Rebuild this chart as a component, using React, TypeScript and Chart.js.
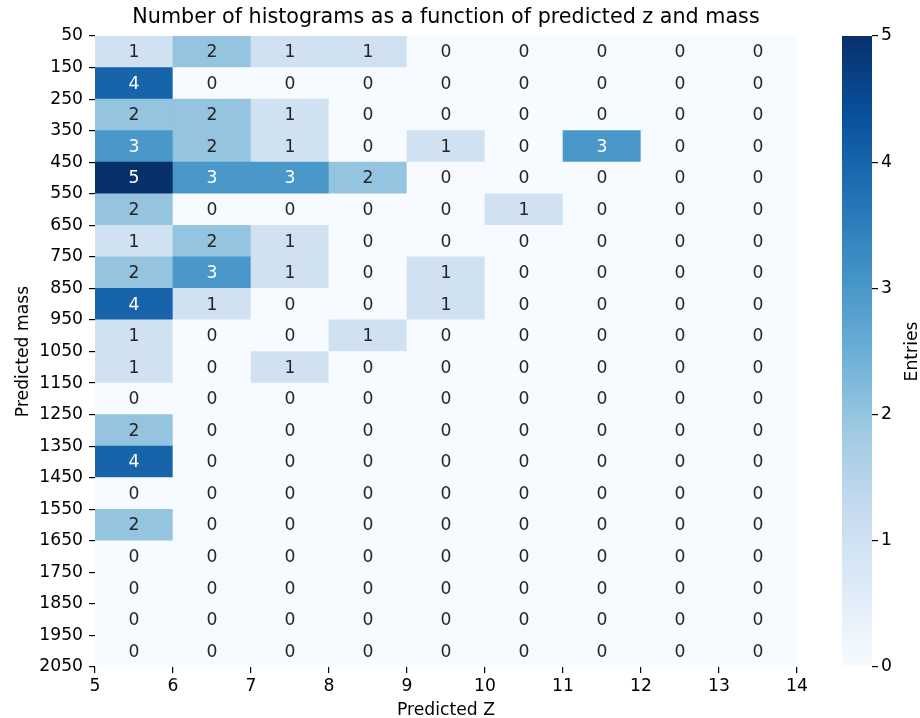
import React, { useEffect, useRef } from "react";
import { Chart, registerables } from "chart.js";

Chart.register(...registerables);

// Bin edges of the 2D histogram
const zEdges = [5, 6, 7, 8, 9, 10, 11, 12, 13, 14];
const massEdges = [
  50, 150, 250, 350, 450, 550, 650, 750, 850, 950, 1050,
  1150, 1250, 1350, 1450, 1550, 1650, 1750, 1850, 1950, 2050,
];

// Entries per (mass row, z column); rows follow massEdges, columns follow zEdges
const entries: number[][] = [
  [1, 2, 1, 1, 0, 0, 0, 0, 0],
  [4, 0, 0, 0, 0, 0, 0, 0, 0],
  [2, 2, 1, 0, 0, 0, 0, 0, 0],
  [3, 2, 1, 0, 1, 0, 3, 0, 0],
  [5, 3, 3, 2, 0, 0, 0, 0, 0],
  [2, 0, 0, 0, 0, 1, 0, 0, 0],
  [1, 2, 1, 0, 0, 0, 0, 0, 0],
  [2, 3, 1, 0, 1, 0, 0, 0, 0],
  [4, 1, 0, 0, 1, 0, 0, 0, 0],
  [1, 0, 0, 1, 0, 0, 0, 0, 0],
  [1, 0, 1, 0, 0, 0, 0, 0, 0],
  [0, 0, 0, 0, 0, 0, 0, 0, 0],
  [2, 0, 0, 0, 0, 0, 0, 0, 0],
  [4, 0, 0, 0, 0, 0, 0, 0, 0],
  [0, 0, 0, 0, 0, 0, 0, 0, 0],
  [2, 0, 0, 0, 0, 0, 0, 0, 0],
  [0, 0, 0, 0, 0, 0, 0, 0, 0],
  [0, 0, 0, 0, 0, 0, 0, 0, 0],
  [0, 0, 0, 0, 0, 0, 0, 0, 0],
  [0, 0, 0, 0, 0, 0, 0, 0, 0],
];

const colorMin = 0;
const colorMax = 5;

const TITLE = "Number of histograms as a function of predicted z and mass";
const X_LABEL = "Predicted Z";
const Y_LABEL = "Predicted mass";
const CBAR_LABEL = "Entries";

const FONT = "'DejaVu Sans', 'Liberation Sans', sans-serif";
const TICK_SIZE = 17.2;
const TITLE_SIZE = 20.7;

// "Blues" sequential palette stops
const BLUES = [
  "#f7fbff", "#deebf7", "#c6dbef", "#9ecae1", "#6baed6",
  "#4292c6", "#2171b5", "#08519c", "#08306b",
];

function hexToRgb(h: string): number[] {
  return [1, 3, 5].map((i) => parseInt(h.slice(i, i + 2), 16));
}

function bluesRgb(t: number): number[] {
  const c = Math.min(1, Math.max(0, t)) * (BLUES.length - 1);
  const i = Math.min(BLUES.length - 2, Math.floor(c));
  const f = c - i;
  const a = hexToRgb(BLUES[i]);
  const b = hexToRgb(BLUES[i + 1]);
  return a.map((v, k) => Math.round(v + (b[k] - v) * f));
}

function rgbStr(c: number[]): string {
  return `rgb(${c[0]},${c[1]},${c[2]})`;
}

function luminance(c: number[]): number {
  const lin = c.map((v) => {
    const s = v / 255;
    return s <= 0.03928 ? s / 12.92 : Math.pow((s + 0.055) / 1.055, 2.4);
  });
  return 0.2126 * lin[0] + 0.7152 * lin[1] + 0.0722 * lin[2];
}

type Cell = { x: number; y: [number, number]; v: number };

const cells: Cell[] = [];
entries.forEach((row, r) => {
  row.forEach((v, c) => {
    cells.push({
      x: (zEdges[c] + zEdges[c + 1]) / 2,
      y: [massEdges[r], massEdges[r + 1]],
      v,
    });
  });
});

const cellColors = cells.map((c) =>
  rgbStr(bluesRgb((c.v - colorMin) / (colorMax - colorMin)))
);

// Writes each cell's count in its centre, white on dark cells
const annotatePlugin = {
  id: "annotateCells",
  afterDatasetsDraw(chart: any) {
    const { ctx } = chart;
    const meta = chart.getDatasetMeta(0);
    ctx.save();
    ctx.font = `${TICK_SIZE}px ${FONT}`;
    ctx.textAlign = "center";
    ctx.textBaseline = "middle";
    meta.data.forEach((el: any, i: number) => {
      const cell = cells[i];
      const rgb = bluesRgb((cell.v - colorMin) / (colorMax - colorMin));
      ctx.fillStyle = luminance(rgb) > 0.408 ? "#262626" : "#ffffff";
      const cy = (el.y + el.base) / 2;
      ctx.fillText(String(cell.v), el.x, cy + 1);
    });
    ctx.restore();
  },
};

const titlePlugin = {
  id: "plotTitle",
  afterDraw(chart: any) {
    const { ctx, chartArea } = chart;
    ctx.save();
    ctx.font = `${TITLE_SIZE}px ${FONT}`;
    ctx.fillStyle = "#000";
    ctx.textAlign = "center";
    ctx.textBaseline = "middle";
    ctx.fillText(TITLE, (chartArea.left + chartArea.right) / 2, 18);
    ctx.restore();
  },
};

const cbarLabelPlugin = {
  id: "cbarLabel",
  afterDraw(chart: any) {
    const { ctx, chartArea } = chart;
    ctx.save();
    ctx.font = `${TICK_SIZE}px ${FONT}`;
    ctx.fillStyle = "#000";
    ctx.textAlign = "center";
    ctx.textBaseline = "middle";
    ctx.translate(113, (chartArea.top + chartArea.bottom) / 2);
    ctx.rotate(-Math.PI / 2);
    ctx.fillText(CBAR_LABEL, 0, 0);
    ctx.restore();
  },
};

const tickFont = { family: FONT, size: TICK_SIZE };

export default function App() {
  const mainRef = useRef<HTMLCanvasElement>(null);
  const cbarRef = useRef<HTMLCanvasElement>(null);

  useEffect(() => {
    if (!mainRef.current || !cbarRef.current) return;

    const main = new Chart(mainRef.current, {
      type: "bar",
      data: {
        datasets: [
          {
            data: cells as any,
            backgroundColor: cellColors,
            borderWidth: 0,
            barPercentage: 1,
            categoryPercentage: 1,
          },
        ],
      },
      options: {
        animation: false,
        responsive: false,
        maintainAspectRatio: false,
        devicePixelRatio: 1,
        layout: { padding: { top: 36, right: 123, bottom: 0, left: 0 } },
        plugins: {
          legend: { display: false },
          tooltip: { enabled: false },
        },
        scales: {
          x: {
            type: "linear",
            min: zEdges[0],
            max: zEdges[zEdges.length - 1],
            offset: false,
            border: { display: false },
            grid: {
              offset: false,
              drawOnChartArea: false,
              drawTicks: true,
              tickLength: 6,
              color: "#000",
              lineWidth: 1.2,
            },
            ticks: {
              stepSize: 1,
              autoSkip: false,
              maxRotation: 0,
              padding: 3,
              color: "#000",
              font: tickFont,
              callback: (v: any) => String(v),
            },
            title: {
              display: true,
              text: X_LABEL,
              color: "#000",
              font: tickFont,
              padding: { top: 0, bottom: -3 },
            },
            afterFit: (s: any) => {
              s.height = 51;
            },
          },
          y: {
            type: "linear",
            reverse: true,
            min: massEdges[0],
            max: massEdges[massEdges.length - 1],
            border: { display: false },
            grid: {
              drawOnChartArea: false,
              drawTicks: true,
              tickLength: 6,
              color: "#000",
              lineWidth: 1.2,
            },
            ticks: {
              stepSize: 100,
              autoSkip: false,
              padding: 6,
              color: "#000",
              font: tickFont,
              callback: (v: any) => String(v),
            },
            title: {
              display: true,
              text: Y_LABEL,
              color: "#000",
              font: tickFont,
              padding: { top: 13, bottom: 0 },
            },
            afterFit: (s: any) => {
              s.width = 95;
            },
          },
        },
      },
      plugins: [annotatePlugin, titlePlugin],
    } as any);

    const cbar = new Chart(cbarRef.current, {
      type: "bar",
      data: {
        labels: [CBAR_LABEL],
        datasets: [
          {
            data: [[colorMin, colorMax]] as any,
            backgroundColor: (c: any) => {
              const area = c.chart.chartArea;
              if (!area) return BLUES[4];
              const g = c.chart.ctx.createLinearGradient(0, area.bottom, 0, area.top);
              BLUES.forEach((col, i) => g.addColorStop(i / (BLUES.length - 1), col));
              return g;
            },
            borderWidth: 0,
            barPercentage: 1,
            categoryPercentage: 1,
          },
        ],
      },
      options: {
        animation: false,
        responsive: false,
        maintainAspectRatio: false,
        devicePixelRatio: 1,
        layout: { padding: { top: 36, bottom: 51, left: 42, right: 0 } },
        plugins: {
          legend: { display: false },
          tooltip: { enabled: false },
        },
        scales: {
          x: { display: false },
          y: {
            position: "right",
            min: colorMin,
            max: colorMax,
            border: { display: false },
            grid: {
              drawOnChartArea: false,
              drawTicks: true,
              tickLength: 6,
              color: "#000",
              lineWidth: 1.2,
            },
            ticks: {
              stepSize: 1,
              padding: 3,
              color: "#000",
              font: tickFont,
            },
            afterFit: (s: any) => {
              s.width = 48;
            },
          },
        },
      },
      plugins: [cbarLabelPlugin],
    } as any);

    return () => {
      main.destroy();
      cbar.destroy();
    };
  }, []);

  return (
    <div
      style={{
        position: "absolute",
        left: 0,
        top: 0,
        width: 920,
        height: 718,
        background: "#fff",
        overflow: "hidden",
      }}
    >
      <canvas
        ref={mainRef}
        width={920}
        height={718}
        style={{ position: "absolute", left: 0, top: 0, width: 920, height: 718 }}
      />
      <canvas
        ref={cbarRef}
        width={120}
        height={718}
        style={{ position: "absolute", left: 800, top: 0, width: 120, height: 718 }}
      />
    </div>
  );
}
